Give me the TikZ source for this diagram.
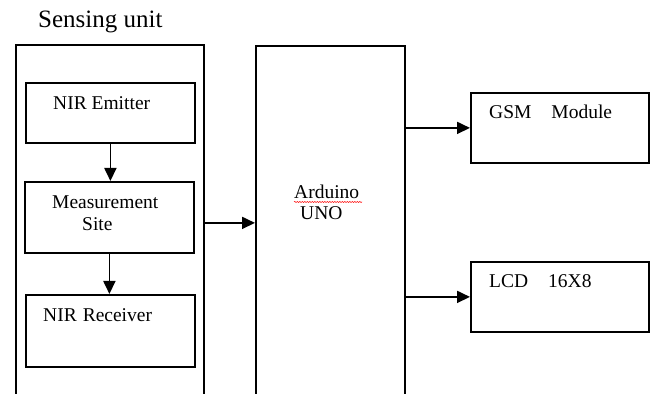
\documentclass[tikz,border=0pt]{standalone}
\usepackage{fontspec}
\setmainfont{Liberation Serif}
\newfontfamily\tnr{Liberation Serif}
\usetikzlibrary{arrows.meta,decorations.pathmorphing}
\begin{document}
\begin{tikzpicture}[x=1pt,y=1pt,
  box/.style={draw, line width=1.8pt, rectangle, inner sep=0pt, anchor=north west},
  txt/.style={anchor=base west, inner sep=0pt, font=\tnr\fontsize{19.5}{22}\selectfont},
  arr/.style={line width=1.8pt, -{Triangle[length=13pt,width=12pt]}}]
\clip (0,0) rectangle (654,394);
\fill[white] (0,0) rectangle (654,394);
% outer boxes (open at bottom)
\node[box, minimum width=188, minimum height=356] (sensing) at (15,350) {};
\node[box, minimum width=149, minimum height=354] (arduino) at (255,349) {};
% inner boxes
\node[box, minimum width=169, minimum height=60] (emitter) at (25,312) {};
\node[box, minimum width=169, minimum height=71] (meas) at (24,213) {};
\node[box, minimum width=169, minimum height=72] (recv) at (25,100) {};
\node[box, minimum width=178, minimum height=70] (gsm) at (470,302) {};
\node[box, minimum width=178, minimum height=70] (lcd) at (470,133) {};
% texts
\node[anchor=base west, inner sep=0pt, font=\tnr\fontsize{25}{28}\selectfont] (title) at (38,366) {Sensing unit};
\node[txt] (t1) at (53,284) {NIR Emitter};
\node[txt] (t2) at (52,185) {Measurement};
\node[txt] (t3) at (82,163) {Site};
\node[txt] (t4) at (43,72) {NIR\hspace{6pt}Receiver};
\node[txt] (t5) at (294,195) {Arduino};
\node[txt] (t6) at (300,174) {UNO};
\node[txt] (t7) at (489,275) {GSM\hspace{20pt}Module};
\node[txt] (t8) at (489,106) {LCD\hspace{20pt}16X8};
% spelling squiggle
\coordinate (sq1) at (294,192);
\coordinate (sq2) at (362,192);
\draw[red, line width=0.5pt, decorate, decoration={snake, amplitude=0.6pt, segment length=2.5pt}] (sq1) -- (sq2);
% connectors
\draw[arr] (emitter.south) -- (emitter.south |- meas.north);
\draw[arr] (meas.south) -- (meas.south |- recv.north);
\draw[arr] (sensing.east) -- (arduino.west);
\draw[arr] (arduino.east |- gsm.west) -- (gsm.west);
\draw[arr] (arduino.east |- lcd.west) -- (lcd.west);
\end{tikzpicture}
\end{document}
